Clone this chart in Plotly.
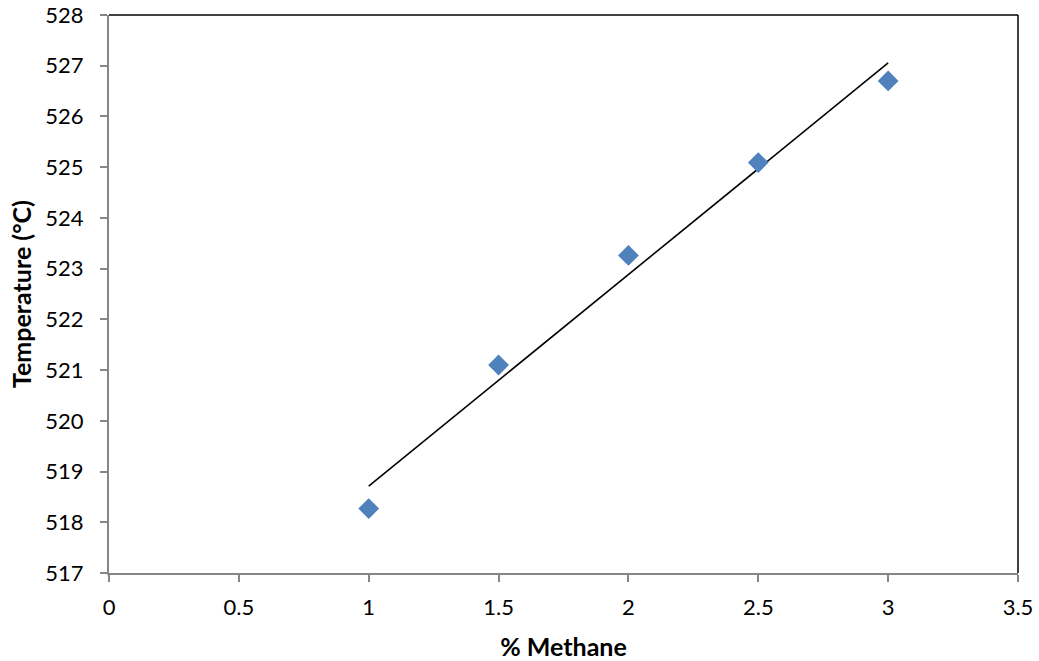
import numpy as np
import plotly.graph_objects as go

methane = [1.0, 1.5, 2.0, 2.5, 3.0]
temperature = [518.27, 521.1, 523.26, 525.09, 526.7]

slope, intercept = np.polyfit(methane, temperature, 1)
trend_x = [min(methane), max(methane)]
trend_y = [slope * x + intercept for x in trend_x]

fig = go.Figure()
fig.add_trace(go.Scatter(x=trend_x, y=trend_y, mode="lines",
                         line=dict(color="black", width=1.6), showlegend=False))
fig.add_trace(go.Scatter(x=methane, y=temperature, mode="markers",
                         marker=dict(symbol="diamond", size=16, color="#4F81BD",
                                     line=dict(width=0)), showlegend=False))

font_family = "Lato, Carlito, Calibri, sans-serif"
axis_color = "#868686"
fig.update_layout(
    width=1039, height=661,
    margin=dict(l=109, r=21, t=15, b=88),
    paper_bgcolor="white", plot_bgcolor="white",
    font=dict(family=font_family, size=22, color="black"),
    xaxis=dict(range=[0, 3.5], dtick=0.5, tick0=0, showgrid=False, zeroline=False,
               automargin=False,
               showline=True, linecolor=axis_color, linewidth=2,
               ticks="outside", ticklen=7, tickcolor=axis_color, tickwidth=2,
               ticklabelstandoff=7,
               title=dict(text="<b>% Methane</b>", font=dict(size=25), standoff=27)),
    yaxis=dict(range=[517, 528], dtick=1, showgrid=False, zeroline=False,
               automargin=False,
               showline=True, linecolor=axis_color, linewidth=2,
               ticks="outside", ticklen=7, tickcolor=axis_color, tickwidth=2,
               ticklabelstandoff=12,
               title=dict(text="<b>Temperature (°C)</b>", font=dict(size=25), standoff=7)),
    shapes=[
        dict(type="line", xref="paper", yref="paper", x0=0, x1=1, y0=1, y1=1,
             line=dict(color="black", width=1.5)),
        dict(type="line", xref="paper", yref="paper", x0=1, x1=1, y0=0, y1=1,
             line=dict(color="black", width=1.5)),
    ],
)

fig.write_html(
    "out.html",
    config={"displayModeBar": False},
    post_script="document.body.style.margin='0';document.body.style.overflow='hidden';",
)
